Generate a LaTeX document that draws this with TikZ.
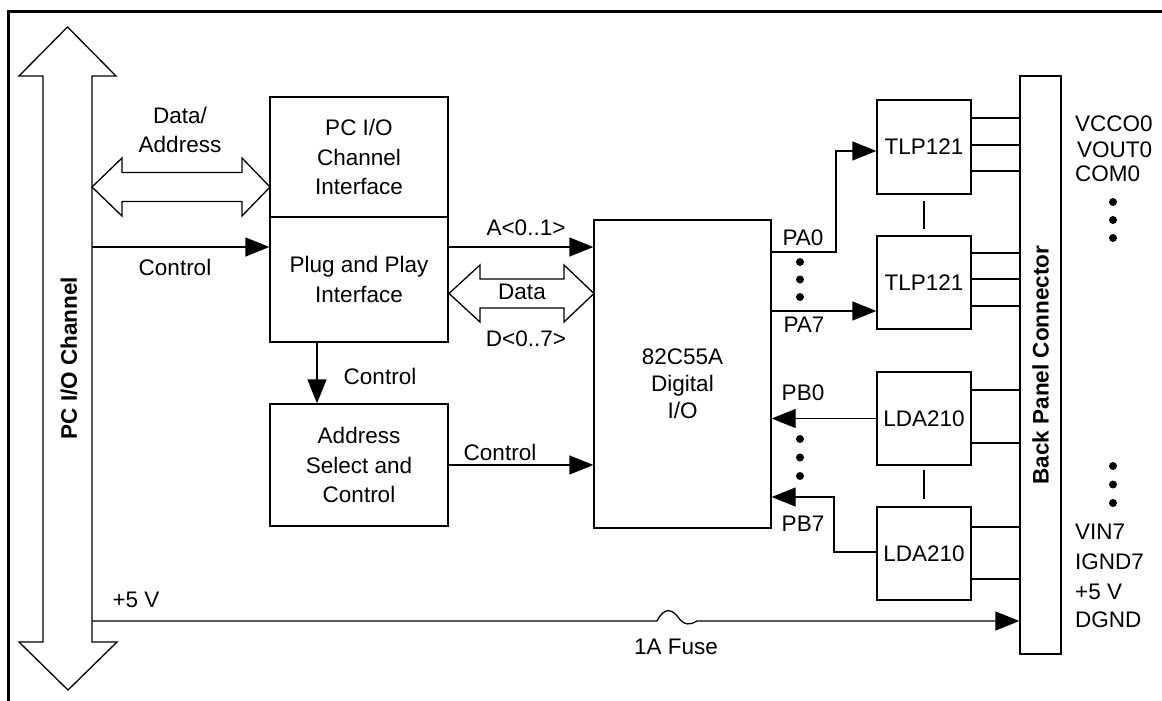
\documentclass[tikz,border=0pt]{standalone}
\usepackage{fontspec}
\setmainfont{Liberation Sans}
\usetikzlibrary{arrows.meta,calc}
\newcommand\dfont{\fontsize{22.5}{29.5}\selectfont}
\begin{document}
\begin{tikzpicture}[x=1pt,y=-1pt,
  ln/.style={line width=1.3pt},
  arr/.style={ln,-{Triangle[length=24pt,width=19pt]}},
  box/.style={draw,line width=1.3pt,inner sep=0pt,align=center,font=\dfont},
  lbl/.style={inner sep=0pt,font=\dfont,align=center},
  blk/.style={draw,fill=white,line width=1.3pt,line join=miter}]
\useasboundingbox (0,0) rectangle (1162,701);
\draw[line width=3.3pt] (8.3,701) -- (8.3,11.7) -- (1162,11.7);

% PC I/O channel bus
\draw[blk] (67.5,27) -- (116,76) -- (92,76) -- (92,642) -- (117,642) -- (68,690) -- (19,642) -- (43,642) -- (43,76) -- (19,76) -- cycle;
\node[lbl,rotate=90,font=\dfont\bfseries] (buslbl) at (69,358) {PC I/O Channel};

% boxes
\node[box,minimum width=178pt,minimum height=120pt] (pcio) at (359,157) {PC I/O\\Channel\\Interface};
\node[box,minimum width=178pt,minimum height=125pt] (pnp) at (359,279.5) {Plug and Play\\Interface};
\node[box,minimum width=178pt,minimum height=122pt] (addr) at (359,465) {Address\\Select and\\Control};
\node[box,minimum width=177pt,minimum height=308pt] (ppi) at (682.5,374) {};
\node[lbl,font=\fontsize{22.5}{27}\selectfont] (ppit) at (682.5,384) {82C55A\\Digital\\I/O};
\node[box,minimum width=94pt,minimum height=94pt] (tlp1) at (924,147) {TLP121};
\node[box,minimum width=94pt,minimum height=93pt] (tlp2) at (924,282.5) {TLP121};
\node[box,minimum width=94pt,minimum height=93pt] (lda1) at (924,418.5) {LDA210};
\node[box,minimum width=94pt,minimum height=93pt] (lda2) at (924,553.5) {LDA210};
\node[box,minimum width=41pt,minimum height=578pt] (bpc) at (1040.5,365) {};
\node[lbl,rotate=90,font=\dfont\bfseries] (bpct) at (bpc.center) {Back Panel Connector};

% block double arrows
\draw[blk] (92,187) -- (122,158) -- (122,172.5) -- (242,172.5) -- (242,158) -- (270,187) -- (242,216) -- (242,201.5) -- (122,201.5) -- (122,216) -- cycle;
\node[lbl] (dal) at (180,130) {Data/\\Address};
\draw[blk] (449,293.5) -- (480,265) -- (480,279) -- (564,279) -- (564,265) -- (594,293.5) -- (564,322) -- (564,308) -- (480,308) -- (480,322) -- cycle;
\node[lbl] (datal) at (522,292) {Data};

% connectors
\coordinate (ctl) at (92,247);
\draw[arr] (ctl) -- (ctl -| pnp.west);
\node[lbl] (ctll) at (175,267) {Control};
\coordinate (cv) at (317,342);
\draw[arr] (cv) -- (cv |- addr.north);
\node[lbl] (cvl) at (380,376) {Control};
\coordinate (a01) at (448,247);
\draw[arr] (a01) -- (a01 -| ppi.west);
\node[lbl] (a01l) at (526,228) {A<0..1>};
\node[lbl] (d07l) at (526,339) {D<0..7>};
\draw[arr] (addr.east) -- (addr.east -| ppi.west);
\node[lbl] (acl) at (500,452) {Control};

\coordinate (pa0) at (771,252);
\draw[arr] (pa0) -| (836,151) -- ([yshift=-4pt]tlp1.west);
\coordinate (pa7) at (771,311);
\draw[arr] (pa7) -- (pa7 -| tlp2.west);
\draw[arr] (lda1.west) -- (lda1.west -| ppi.east);
\coordinate (pb7c) at (834,497);
\draw[arr] ([yshift=1.5pt]lda2.west) -| (pb7c) -- (pb7c -| ppi.east);
\node[lbl] (pa0l) at (803,238) {PA0};
\node[lbl] (pa7l) at (804,325) {PA7};
\node[lbl] (pb0l) at (803,393) {PB0};
\node[lbl] (pb7l) at (803,524) {PB7};
\foreach \y in {262,279.5,297,439,457.5,476} \fill (800,\y) circle (4pt);

\draw[ln] ([yshift=-6pt]tlp1.south) -- ([yshift=6pt]tlp2.north);
\draw[ln] ([yshift=-4pt]lda1.south) -- ([yshift=7pt]lda2.north);

\foreach \y in {118,145,171,253,279,306,390,443,527,579} {
  \coordinate (o) at (971,\y);
  \draw[ln] (o) -- (o -| bpc.west);
}

% +5 V with fuse
\coordinate (p5) at (92,621);
\coordinate (fa) at (657,621);
\coordinate (fb) at (697,621);
\draw[arr] (p5) -- (fa) .. controls (664,607) and (672,609) .. (678,617) .. controls (684,626) and (691,625) .. (fb) -- (fb -| bpc.west);
\node[lbl] (p5l) at (136,600) {+5 V};
\node[lbl] (fusel) at (676,647) {1A Fuse};

% connector pin labels
\node[lbl,anchor=west] (r1) at (1075,124) {VCCO0};
\node[lbl,anchor=west] (r2) at (1077,150) {VOUT0};
\node[lbl,anchor=west] (r3) at (1075,174) {COM0};
\foreach \y in {202,220,238,466,484.5,503} \fill (1113,\y) circle (4pt);
\node[lbl,anchor=west] (r4) at (1075,532) {VIN7};
\node[lbl,anchor=west] (r5) at (1075,562) {IGND7};
\node[lbl,anchor=west] (r6) at (1075,592) {+5 V};
\node[lbl,anchor=west] (r7) at (1075,620) {DGND};
\end{tikzpicture}
\end{document}
